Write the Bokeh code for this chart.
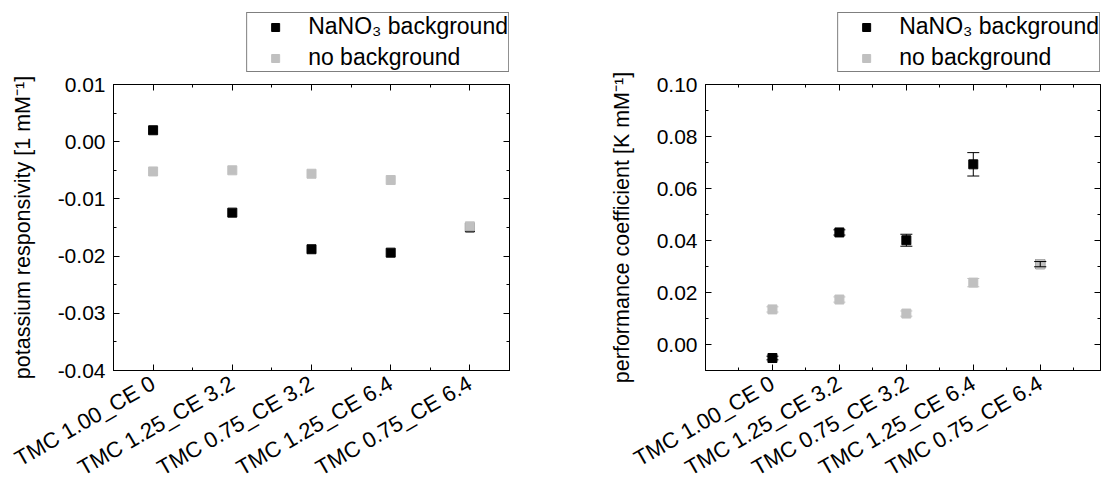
from bokeh.plotting import figure
from bokeh.models import (FixedTicker, LinearAxis, Range1d, Legend, LegendItem,
                          Whisker, TeeHead, ColumnDataSource, NumeralTickFormatter,
                          CustomJSTickFormatter)
from bokeh.layouts import row, column
from bokeh.embed import file_html
from bokeh.resources import INLINE

categories = ["TMC 1.00_CE 0", "TMC 1.25_CE 3.2", "TMC 0.75_CE 3.2",
              "TMC 1.25_CE 6.4", "TMC 0.75_CE 6.4"]
positions = [1, 2, 3, 4, 5]

resp_nano3 = [0.0020, -0.0124, -0.0188, -0.0194, -0.0150]
resp_none = [-0.0052, -0.0050, -0.0056, -0.0067, -0.0148]
resp_ticks = [-0.04, -0.03, -0.02, -0.01, 0.00, 0.01]
resp_minor = [-0.035, -0.025, -0.015, -0.005, 0.005]

perf_nano3 = [-0.0052, 0.0431, 0.0401, 0.0693, 0.0309]
perf_nano3_err = [0.0007, 0.0010, 0.0023, 0.0045, 0.0010]
perf_none = [0.0135, 0.0173, 0.0119, 0.0238, 0.0309]
perf_none_err = [0.0010, 0.0010, 0.0010, 0.0016, 0.0010]
perf_ticks = [0.00, 0.02, 0.04, 0.06, 0.08, 0.10]
perf_minor = [-0.01, 0.01, 0.03, 0.05, 0.07, 0.09]

x_minor = [0.5, 1.5, 2.5, 3.5, 4.5, 5.5]
legend_labels = ["NaNO\u2083 background", "no background"]

FONT = "Liberation Sans"
BLACK = "#000000"
GRAY = "#c0c0c0"
LEG_H = 72


def style_axis(ax, show_labels=True):
    ax.axis_line_color = "black"
    ax.axis_line_width = 1
    ax.major_tick_in = 6
    ax.major_tick_out = 0
    ax.minor_tick_in = 3
    ax.minor_tick_out = 0
    ax.major_tick_line_color = "black"
    ax.minor_tick_line_color = "black"
    ax.major_label_text_font = FONT
    ax.major_label_text_color = "black"
    ax.axis_label_text_font = FONT
    ax.axis_label_text_font_style = "normal"
    ax.axis_label_text_color = "black"
    if not show_labels:
        ax.formatter = CustomJSTickFormatter(code="return '';")
        ax.major_label_standoff = 0


def make_legend(src_a, src_b):
    # legend panel above the plot; its frame is aligned with the plot frame below
    lf = figure(width=552, height=LEG_H, output_backend="svg", toolbar_location=None,
                x_axis_type=None, y_axis_type=None, x_range=Range1d(100, 101),
                y_range=Range1d(100, 101), min_border=0, min_border_top=0,
                min_border_bottom=0)
    lf.outline_line_color = None
    lf.xgrid.visible = False
    lf.ygrid.visible = False
    ra = lf.scatter("x", "y", source=src_a, marker="square", size=7,
                    fill_color=BLACK, line_color=BLACK)
    rb = lf.scatter("x", "y", source=src_b, marker="square", size=7,
                    fill_color=GRAY, line_color=GRAY)
    legend = Legend(items=[LegendItem(label=legend_labels[0], renderers=[ra], index=0),
                           LegendItem(label=legend_labels[1], renderers=[rb], index=0)],
                    location="bottom_right")
    legend.label_text_font = FONT
    legend.label_text_font_size = "23px"
    legend.label_text_color = "black"
    legend.border_line_color = "black"
    legend.border_line_width = 1
    legend.background_fill_alpha = 1
    legend.padding = 0
    legend.margin = 0
    legend.spacing = 4
    legend.glyph_width = 56
    legend.glyph_height = 20
    legend.label_standoff = 5
    legend.label_height = 26
    lf.add_layout(legend)
    return lf


def make(src_a, src_b, yticks, yminor, yrange, xrange, ylabel,
         border_left, border_right, err_a=None, err_b=None):
    p = figure(width=552, height=494 - LEG_H, output_backend="svg", toolbar_location=None,
               x_range=Range1d(*xrange), y_range=Range1d(*yrange),
               min_border_left=border_left, min_border_right=border_right,
               min_border_top=84 - LEG_H, min_border_bottom=124)
    p.xgrid.visible = False
    p.ygrid.visible = False
    p.outline_line_color = "black"
    p.background_fill_color = "white"
    p.border_fill_color = "white"

    p.xaxis.ticker = FixedTicker(ticks=positions, minor_ticks=x_minor)
    p.xaxis.major_label_overrides = {pos: lab for pos, lab in zip(positions, categories)}
    p.xaxis.major_label_orientation = 0.5236
    p.xaxis.major_label_text_font_size = "22px"
    p.xaxis.major_label_standoff = 11
    style_axis(p.xaxis[0])

    p.yaxis.ticker = FixedTicker(ticks=yticks, minor_ticks=yminor)
    p.yaxis.formatter = NumeralTickFormatter(format="0.00")
    p.yaxis.major_label_text_font_size = "21px"
    p.yaxis.major_label_standoff = 8
    p.yaxis.axis_label = ylabel
    p.yaxis.axis_label_text_font_size = "21.5px"
    p.yaxis.axis_label_standoff = 20
    style_axis(p.yaxis[0])

    top = LinearAxis(ticker=FixedTicker(ticks=positions, minor_ticks=x_minor))
    style_axis(top, show_labels=False)
    p.add_layout(top, "above")
    right = LinearAxis(ticker=FixedTicker(ticks=yticks, minor_ticks=yminor))
    style_axis(right, show_labels=False)
    p.add_layout(right, "right")

    p.scatter("x", "y", source=src_a, marker="square", size=9,
              fill_color=BLACK, line_color=BLACK)
    p.scatter("x", "y", source=src_b, marker="square", size=9,
              fill_color=GRAY, line_color=GRAY)

    ya = src_a.data["y"]
    yb = src_b.data["y"]
    if err_b is not None:
        eb = ColumnDataSource(dict(x=positions,
                                   lo=[v - e for v, e in zip(yb, err_b)],
                                   hi=[v + e for v, e in zip(yb, err_b)]))
        p.add_layout(Whisker(source=eb, base="x", lower="lo", upper="hi",
                             line_color=GRAY, level="glyph",
                             lower_head=TeeHead(size=12, line_color=GRAY),
                             upper_head=TeeHead(size=12, line_color=GRAY)))
    if err_a is not None:
        ea = ColumnDataSource(dict(x=positions,
                                   lo=[v - e for v, e in zip(ya, err_a)],
                                   hi=[v + e for v, e in zip(ya, err_a)]))
        p.add_layout(Whisker(source=ea, base="x", lower="lo", upper="hi",
                             line_color=BLACK, level="glyph",
                             lower_head=TeeHead(size=12, line_color=BLACK),
                             upper_head=TeeHead(size=12, line_color=BLACK)))
    return p


s1a = ColumnDataSource(dict(x=positions, y=resp_nano3))
s1b = ColumnDataSource(dict(x=positions, y=resp_none))
s2a = ColumnDataSource(dict(x=positions, y=perf_nano3))
s2b = ColumnDataSource(dict(x=positions, y=perf_none))

p1 = make(s1a, s1b, resp_ticks, resp_minor, (-0.04, 0.01), (0.5, 5.5),
          "potassium responsivity [1 mM\u207b\u00b9]", 113, 43)
p2 = make(s2a, s2b, perf_ticks, perf_minor, (-0.01, 0.10), (0.0, 5.9),
          "performance coefficient [K mM\u207b\u00b9]", 153, 4,
          err_a=perf_nano3_err, err_b=perf_none_err)

layout = row(column(make_legend(s1a, s1b), p1, spacing=0),
             column(make_legend(s2a, s2b), p2, spacing=0), spacing=0)
open("out.html", "w").write(file_html(layout, INLINE))
